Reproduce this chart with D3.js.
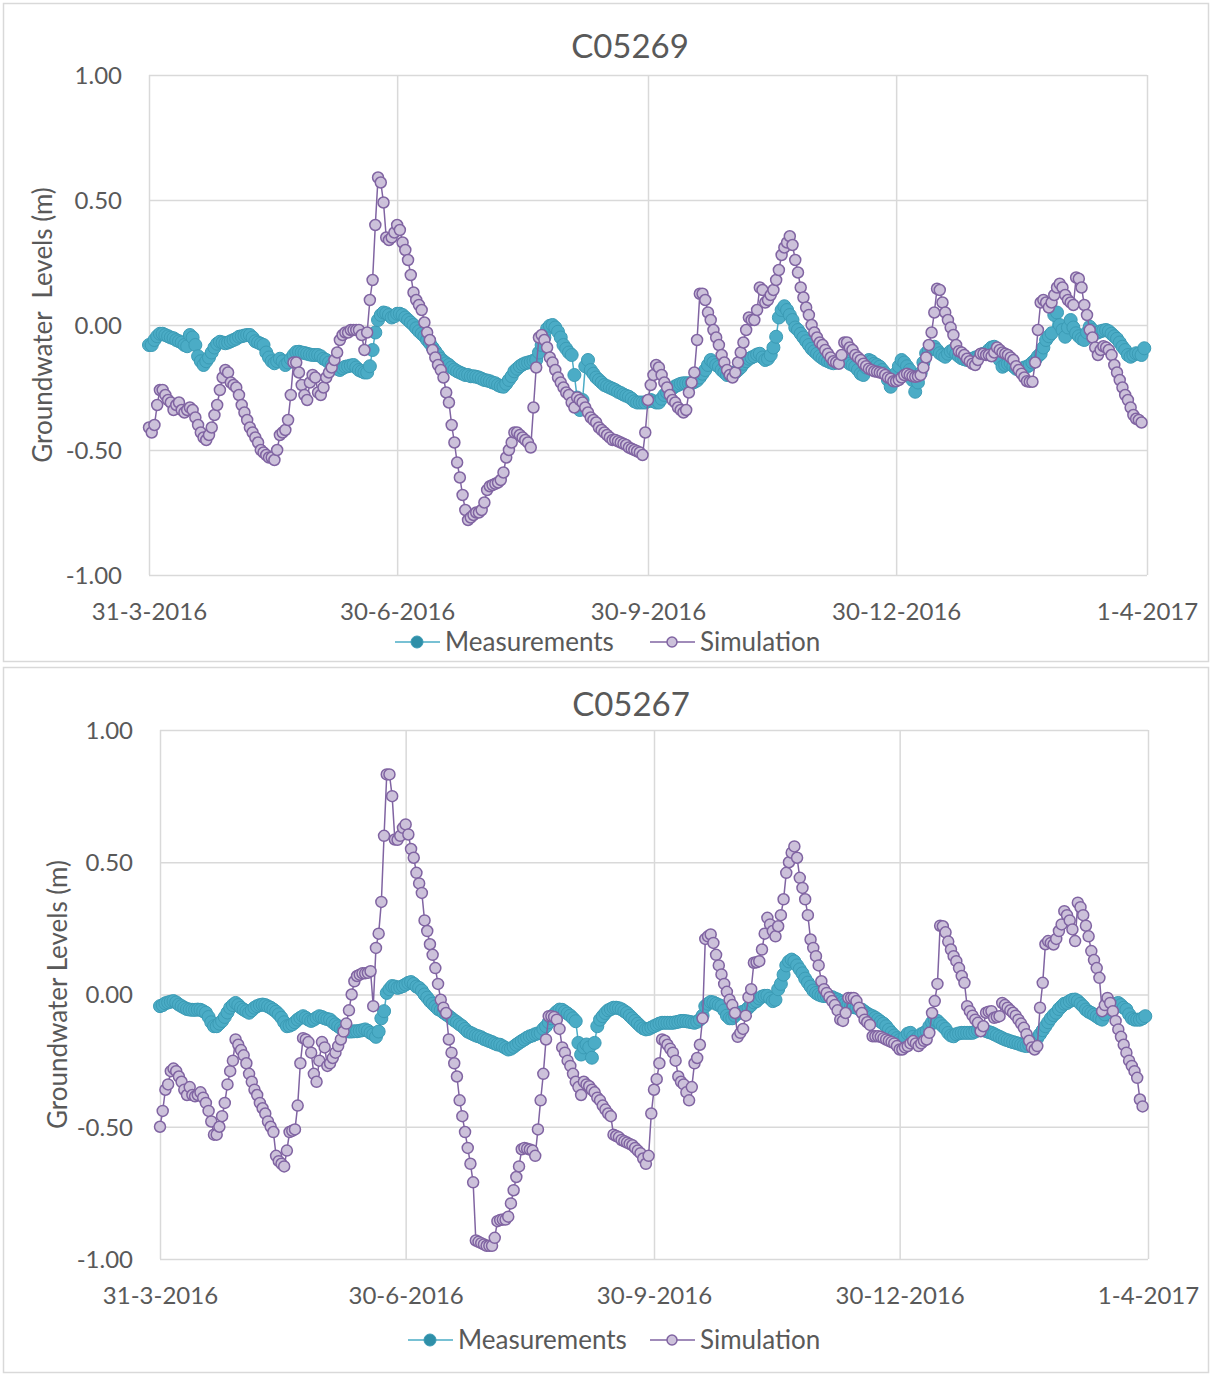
<!DOCTYPE html>
<html>
<head>
<meta charset="utf-8">
<title>Groundwater levels C05269 / C05267</title>
<script src="https://cdn.jsdelivr.net/npm/d3@7"></script>
<style>
  body { margin: 0; background: #fff; }
  svg text { font-family: Lato, 'Open Sans', sans-serif; fill: #595959; }
</style>
</head>
<body>
<div id="chart"></div>
<script>
// one value per day, first value is 31-3-2016
const startDay = '31-3-2016';
const xTickLabels = ['31-3-2016', '30-6-2016', '30-9-2016', '30-12-2016', '1-4-2017'];
const yTicks = [1, 0.5, 0, -0.5, -1];
const seriesNames = ['Measurements', 'Simulation'];

const c05269Meas = [
  -0.08, -0.08, -0.06, -0.045, -0.035, -0.035, -0.04, -0.045, -0.05, -0.053,
  -0.06, -0.065, -0.07, -0.08, -0.085, -0.04, -0.05, -0.08, -0.125, -0.145,
  -0.16, -0.145, -0.13, -0.11, -0.09, -0.075, -0.067, -0.07, -0.073, -0.07,
  -0.065, -0.06, -0.055, -0.047, -0.045, -0.042, -0.04, -0.04, -0.05, -0.065,
  -0.07, -0.075, -0.08, -0.11, -0.13, -0.145, -0.153, -0.145, -0.135, -0.145,
  -0.16, -0.15, -0.135, -0.12, -0.108, -0.107, -0.11, -0.112, -0.115, -0.118,
  -0.12, -0.12, -0.12, -0.125, -0.135, -0.14, -0.15, -0.16, -0.17, -0.175,
  -0.18, -0.173, -0.167, -0.165, -0.162, -0.16, -0.17, -0.18, -0.185, -0.19,
  -0.19, -0.165, -0.10, -0.03, 0.02, 0.04, 0.05, 0.047, 0.04, 0.03,
  0.035, 0.045, 0.045, 0.04, 0.03, 0.02, 0.01, 0.00, -0.013, -0.025,
  -0.035, -0.045, -0.06, -0.073, -0.09, -0.105, -0.12, -0.135, -0.145, -0.153,
  -0.16, -0.17, -0.178, -0.185, -0.19, -0.195, -0.20, -0.20, -0.205, -0.205,
  -0.207, -0.21, -0.215, -0.22, -0.222, -0.225, -0.23, -0.233, -0.24, -0.245,
  -0.247, -0.235, -0.22, -0.205, -0.185, -0.175, -0.165, -0.158, -0.153, -0.15,
  -0.147, -0.143, -0.14, -0.11, -0.08, -0.05, -0.015, -0.003, 0.00, -0.01,
  -0.027, -0.05, -0.08, -0.095, -0.11, -0.12, -0.20, -0.29, -0.34, -0.30,
  -0.165, -0.14, -0.18, -0.195, -0.21, -0.22, -0.23, -0.24, -0.245, -0.25,
  -0.255, -0.26, -0.267, -0.272, -0.278, -0.283, -0.287, -0.295, -0.305, -0.31,
  -0.31, -0.31, -0.31, -0.305, -0.30, -0.305, -0.31, -0.31, -0.295, -0.28,
  -0.27, -0.26, -0.253, -0.245, -0.24, -0.235, -0.233, -0.233, -0.233, -0.233,
  -0.228, -0.222, -0.21, -0.195, -0.18, -0.16, -0.14, -0.15, -0.16, -0.167,
  -0.18, -0.19, -0.20, -0.20, -0.195, -0.19, -0.18, -0.17, -0.155, -0.145,
  -0.135, -0.13, -0.125, -0.118, -0.115, -0.13, -0.14, -0.135, -0.12, -0.09,
  -0.047, 0.03, 0.06, 0.075, 0.06, 0.04, 0.02, -0.01, -0.02, -0.035,
  -0.05, -0.065, -0.08, -0.095, -0.105, -0.115, -0.125, -0.133, -0.14, -0.145,
  -0.15, -0.153, -0.15, -0.145, -0.14, -0.14, -0.145, -0.155, -0.16, -0.167,
  -0.18, -0.195, -0.20, -0.17, -0.14, -0.145, -0.155, -0.16, -0.167, -0.18,
  -0.193, -0.22, -0.247, -0.22, -0.193, -0.165, -0.14, -0.15, -0.165, -0.18,
  -0.22, -0.267, -0.23, -0.193, -0.15, -0.113, -0.10, -0.09, -0.087, -0.10,
  -0.113, -0.12, -0.127, -0.115, -0.105, -0.10, -0.115, -0.125, -0.133, -0.137,
  -0.14, -0.14, -0.135, -0.13, -0.127, -0.12, -0.115, -0.113, -0.10, -0.09,
  -0.087, -0.11, -0.14, -0.167, -0.16, -0.155, -0.153, -0.165, -0.175, -0.18,
  -0.175, -0.17, -0.167, -0.16, -0.15, -0.14, -0.125, -0.115, -0.09, -0.06,
  -0.045, -0.033, 0.04, 0.05, 0.00, -0.02, -0.047, -0.01, 0.02, -0.01,
  -0.033, -0.045, -0.055, -0.06, -0.03, -0.007, -0.02, -0.033, -0.03, -0.025,
  -0.022, -0.02, -0.025, -0.035, -0.045, -0.055, -0.07, -0.087, -0.10, -0.12,
  -0.127, -0.12, -0.113, -0.115, -0.12, -0.093
];

const c05269Sim = [
  -0.41, -0.43, -0.40, -0.32, -0.26, -0.26, -0.28, -0.30, -0.31, -0.34,
  -0.32, -0.31, -0.34, -0.35, -0.34, -0.33, -0.34, -0.37, -0.40, -0.43,
  -0.45, -0.46, -0.44, -0.41, -0.36, -0.32, -0.26, -0.21, -0.18, -0.19,
  -0.23, -0.24, -0.25, -0.28, -0.32, -0.35, -0.38, -0.41, -0.43, -0.45,
  -0.47, -0.50, -0.51, -0.52, -0.53, -0.53, -0.54, -0.50, -0.44, -0.43,
  -0.42, -0.38, -0.28, -0.15, -0.15, -0.19, -0.24, -0.28, -0.30, -0.23,
  -0.20, -0.21, -0.27, -0.28, -0.25, -0.21, -0.19, -0.17, -0.14, -0.11,
  -0.06, -0.04, -0.03, -0.03, -0.02, -0.02, -0.02, -0.02, -0.04, -0.10,
  -0.03, 0.10, 0.18, 0.40, 0.59, 0.57, 0.49, 0.35, 0.34, 0.35,
  0.37, 0.40, 0.38, 0.33, 0.30, 0.26, 0.20, 0.13, 0.10, 0.08,
  0.06, 0.01, -0.03, -0.06, -0.10, -0.13, -0.16, -0.18, -0.21, -0.27,
  -0.31, -0.40, -0.47, -0.55, -0.61, -0.68, -0.74, -0.78, -0.77, -0.76,
  -0.75, -0.75, -0.74, -0.71, -0.66, -0.645, -0.64, -0.635, -0.63, -0.62,
  -0.59, -0.53, -0.50, -0.47, -0.43, -0.43, -0.44, -0.45, -0.46, -0.47,
  -0.49, -0.33, -0.17, -0.05, -0.04, -0.06, -0.09, -0.13, -0.15, -0.18,
  -0.21, -0.23, -0.25, -0.27, -0.28, -0.31, -0.33, -0.29, -0.30, -0.31,
  -0.33, -0.35, -0.37, -0.38, -0.39, -0.41, -0.42, -0.43, -0.44, -0.45,
  -0.46, -0.46, -0.465, -0.47, -0.475, -0.48, -0.49, -0.495, -0.50, -0.505,
  -0.51, -0.52, -0.43, -0.30, -0.24, -0.20, -0.16, -0.17, -0.20, -0.23,
  -0.25, -0.28, -0.30, -0.31, -0.33, -0.34, -0.35, -0.34, -0.27, -0.23,
  -0.19, -0.06, 0.125, 0.125, 0.10, 0.05, 0.02, -0.02, -0.05, -0.08,
  -0.12, -0.15, -0.18, -0.20, -0.21, -0.19, -0.15, -0.11, -0.07, -0.02,
  0.03, 0.02, 0.02, 0.06, 0.15, 0.14, 0.09, 0.10, 0.12, 0.14,
  0.18, 0.22, 0.28, 0.31, 0.33, 0.355, 0.32, 0.26, 0.21, 0.15,
  0.11, 0.07, 0.04, 0.00, -0.03, -0.05, -0.07, -0.08, -0.10, -0.115,
  -0.13, -0.145, -0.15, -0.155, -0.12, -0.07, -0.07, -0.09, -0.10, -0.12,
  -0.13, -0.14, -0.155, -0.165, -0.175, -0.18, -0.185, -0.187, -0.19, -0.193,
  -0.20, -0.21, -0.215, -0.225, -0.225, -0.22, -0.21, -0.20, -0.195, -0.20,
  -0.205, -0.207, -0.205, -0.20, -0.17, -0.13, -0.08, -0.03, 0.05, 0.145,
  0.14, 0.09, 0.05, 0.02, -0.01, -0.04, -0.08, -0.105, -0.11, -0.12,
  -0.135, -0.145, -0.155, -0.16, -0.14, -0.115, -0.115, -0.12, -0.12, -0.125,
  -0.11, -0.09, -0.10, -0.11, -0.115, -0.12, -0.13, -0.14, -0.165, -0.18,
  -0.195, -0.21, -0.225, -0.227, -0.227, -0.15, -0.02, 0.09, 0.10, 0.09,
  0.07, 0.09, 0.12, 0.15, 0.165, 0.15, 0.12, 0.10, 0.09, 0.08,
  0.19, 0.185, 0.15, 0.08, 0.04, -0.02, -0.05, -0.09, -0.12, -0.10,
  -0.085, -0.09, -0.10, -0.12, -0.16, -0.19, -0.22, -0.25, -0.28, -0.30,
  -0.33, -0.36, -0.375, -0.38, -0.39
];

const c05267Meas = [
  -0.044, -0.04, -0.033, -0.03, -0.027, -0.025, -0.03, -0.038, -0.044, -0.05,
  -0.055, -0.057, -0.058, -0.058, -0.057, -0.058, -0.063, -0.069, -0.085, -0.105,
  -0.12, -0.12, -0.11, -0.10, -0.085, -0.068, -0.05, -0.04, -0.032, -0.04,
  -0.05, -0.057, -0.063, -0.069, -0.06, -0.05, -0.044, -0.04, -0.038, -0.04,
  -0.045, -0.05, -0.057, -0.065, -0.075, -0.088, -0.105, -0.12, -0.118, -0.113,
  -0.105, -0.095, -0.088, -0.082, -0.088, -0.095, -0.10, -0.095, -0.088, -0.082,
  -0.085, -0.09, -0.093, -0.095, -0.105, -0.113, -0.12, -0.127, -0.133, -0.139,
  -0.14, -0.14, -0.139, -0.139, -0.137, -0.135, -0.132, -0.137, -0.145, -0.151,
  -0.16, -0.14, -0.09, -0.063, 0.006, 0.02, 0.032, 0.03, 0.025, 0.028,
  0.032, 0.038, 0.044, 0.047, 0.04, 0.03, 0.025, 0.015, 0.00, -0.012,
  -0.025, -0.035, -0.045, -0.055, -0.06, -0.068, -0.075, -0.082, -0.09, -0.098,
  -0.105, -0.113, -0.12, -0.13, -0.14, -0.145, -0.15, -0.155, -0.158, -0.162,
  -0.168, -0.172, -0.176, -0.18, -0.185, -0.189, -0.19, -0.196, -0.202, -0.208,
  -0.205, -0.198, -0.19, -0.183, -0.176, -0.17, -0.163, -0.158, -0.155, -0.15,
  -0.147, -0.145, -0.13, -0.12, -0.105, -0.09, -0.075, -0.065, -0.057, -0.058,
  -0.065, -0.072, -0.08, -0.09, -0.101, -0.183, -0.227, -0.20, -0.189, -0.20,
  -0.239, -0.183, -0.12, -0.095, -0.082, -0.07, -0.06, -0.055, -0.05, -0.05,
  -0.052, -0.056, -0.063, -0.07, -0.08, -0.09, -0.10, -0.11, -0.12, -0.128,
  -0.132, -0.13, -0.125, -0.12, -0.115, -0.11, -0.107, -0.107, -0.107, -0.107,
  -0.107, -0.105, -0.103, -0.10, -0.10, -0.101, -0.103, -0.105, -0.107, -0.103,
  -0.095, -0.08, -0.044, -0.035, -0.028, -0.03, -0.035, -0.04, -0.044, -0.06,
  -0.08, -0.09, -0.09, -0.08, -0.07, -0.068, -0.065, -0.06, -0.05, -0.04,
  -0.03, -0.025, -0.015, -0.008, -0.005, -0.005, -0.015, -0.025, -0.02, 0.02,
  0.04, 0.075, 0.11, 0.125, 0.132, 0.125, 0.11, 0.095, 0.08, 0.06,
  0.045, 0.03, 0.015, 0.006, 0.00, -0.004, -0.006, -0.006, -0.008, -0.01,
  -0.015, -0.019, -0.025, -0.03, -0.035, -0.04, -0.044, -0.048, -0.05, -0.055,
  -0.057, -0.065, -0.072, -0.078, -0.082, -0.088, -0.095, -0.103, -0.11, -0.12,
  -0.133, -0.145, -0.155, -0.165, -0.172, -0.176, -0.16, -0.148, -0.145, -0.16,
  -0.17, -0.16, -0.15, -0.145, -0.139, -0.12, -0.105, -0.095, -0.10, -0.11,
  -0.12, -0.13, -0.145, -0.155, -0.158, -0.15, -0.147, -0.145, -0.145, -0.145,
  -0.145, -0.145, -0.14, -0.135, -0.132, -0.132, -0.138, -0.142, -0.145, -0.15,
  -0.155, -0.16, -0.165, -0.17, -0.173, -0.177, -0.18, -0.183, -0.186, -0.19,
  -0.193, -0.195, -0.19, -0.183, -0.175, -0.165, -0.15, -0.135, -0.12, -0.105,
  -0.09, -0.078, -0.069, -0.055, -0.045, -0.035, -0.032, -0.025, -0.02, -0.019,
  -0.025, -0.035, -0.045, -0.057, -0.065, -0.07, -0.076, -0.083, -0.09, -0.095,
  -0.075, -0.05, -0.044, -0.04, -0.035, -0.032, -0.04, -0.05, -0.057, -0.075,
  -0.09, -0.095, -0.095, -0.095, -0.09, -0.082
];

const c05267Sim = [
  -0.50, -0.44, -0.36, -0.34, -0.29, -0.28, -0.29, -0.31, -0.33, -0.36,
  -0.38, -0.35, -0.38, -0.385, -0.38, -0.37, -0.39, -0.41, -0.44, -0.48,
  -0.53, -0.53, -0.50, -0.46, -0.41, -0.34, -0.29, -0.25, -0.17, -0.19,
  -0.21, -0.23, -0.26, -0.30, -0.33, -0.36, -0.38, -0.41, -0.43, -0.45,
  -0.48, -0.50, -0.52, -0.61, -0.63, -0.64, -0.65, -0.59, -0.52, -0.515,
  -0.51, -0.42, -0.26, -0.165, -0.17, -0.18, -0.22, -0.30, -0.33, -0.25,
  -0.18, -0.20, -0.27, -0.26, -0.24, -0.22, -0.195, -0.17, -0.14, -0.11,
  -0.06, 0.00, 0.05, 0.07, 0.075, 0.08, 0.08, 0.082, 0.088, -0.044,
  0.176, 0.23, 0.35, 0.60, 0.832, 0.832, 0.75, 0.586, 0.585, 0.60,
  0.63, 0.643, 0.605, 0.55, 0.517, 0.46, 0.42, 0.384, 0.28, 0.24,
  0.19, 0.15, 0.10, 0.04, -0.02, -0.05, -0.07, -0.17, -0.22, -0.26,
  -0.31, -0.40, -0.46, -0.52, -0.58, -0.64, -0.71, -0.93, -0.935, -0.94,
  -0.945, -0.95, -0.95, -0.95, -0.92, -0.857, -0.853, -0.851, -0.851, -0.84,
  -0.79, -0.74, -0.69, -0.65, -0.585, -0.58, -0.583, -0.586, -0.59, -0.61,
  -0.51, -0.40, -0.30, -0.17, -0.082, -0.082, -0.085, -0.095, -0.13, -0.20,
  -0.22, -0.25, -0.27, -0.30, -0.33, -0.35, -0.38, -0.33, -0.34, -0.347,
  -0.36, -0.37, -0.39, -0.40, -0.42, -0.435, -0.45, -0.46, -0.53, -0.535,
  -0.54, -0.55, -0.555, -0.56, -0.565, -0.57, -0.58, -0.59, -0.60, -0.62,
  -0.64, -0.61, -0.45, -0.36, -0.32, -0.26, -0.17, -0.175, -0.19, -0.205,
  -0.22, -0.25, -0.31, -0.33, -0.34, -0.37, -0.40, -0.35, -0.26, -0.24,
  -0.19, -0.09, 0.21, 0.22, 0.227, 0.195, 0.15, 0.11, 0.076, 0.04,
  0.01, -0.02, -0.04, -0.07, -0.16, -0.145, -0.13, -0.08, -0.01, 0.02,
  0.12, 0.122, 0.126, 0.17, 0.23, 0.29, 0.265, 0.24, 0.22, 0.258,
  0.30, 0.36, 0.46, 0.50, 0.536, 0.56, 0.517, 0.441, 0.403, 0.36,
  0.30, 0.208, 0.176, 0.145, 0.11, 0.05, 0.02, 0.006, -0.01, -0.025,
  -0.04, -0.06, -0.095, -0.10, -0.07, -0.013, -0.013, -0.013, -0.025, -0.05,
  -0.07, -0.095, -0.105, -0.115, -0.158, -0.158, -0.158, -0.16, -0.165, -0.17,
  -0.175, -0.18, -0.185, -0.195, -0.208, -0.208, -0.20, -0.195, -0.185, -0.176,
  -0.185, -0.195, -0.185, -0.175, -0.17, -0.145, -0.07, -0.025, 0.04, 0.26,
  0.258, 0.235, 0.20, 0.17, 0.145, 0.126, 0.10, 0.07, 0.044, -0.044,
  -0.063, -0.08, -0.095, -0.107, -0.139, -0.12, -0.069, -0.065, -0.063, -0.088,
  -0.085, -0.082, -0.032, -0.04, -0.05, -0.06, -0.069, -0.08, -0.095, -0.11,
  -0.126, -0.15, -0.175, -0.20, -0.208, -0.195, -0.05, 0.044, 0.19, 0.202,
  0.195, 0.189, 0.21, 0.24, 0.265, 0.315, 0.30, 0.28, 0.246, 0.202,
  0.347, 0.33, 0.30, 0.26, 0.22, 0.164, 0.13, 0.10, 0.063, -0.063,
  -0.04, -0.013, -0.032, -0.063, -0.10, -0.132, -0.16, -0.19, -0.22, -0.25,
  -0.27, -0.29, -0.315, -0.397, -0.423
];

const width = 1212;
const height = 1375;

const colors = {
  meas: { line: '#4bacc6', fill: '#4bacc6', stroke: '#3b9bb5' },
  sim: { line: '#8064a2', fill: '#ccc1da', stroke: '#8064a2' },
  grid: '#d9d9d9',
  border: '#d9d9d9'
};

const layouts = [
  {
    title: 'C05269', yTitle: 'Groundwater  Levels (m)',
    panel: { x: 3, y: 3, w: 1205, h: 658 },
    plot: { left: 149, right: 1147, top: 75, bottom: 575 },
    titleX: 630, titleY: 46, yTitleX: 43, legendY: 642,
    legendMeasX: 395, legendSimX: 650
  },
  {
    title: 'C05267', yTitle: 'Groundwater Levels (m)',
    panel: { x: 3, y: 667, w: 1205, h: 705 },
    plot: { left: 160, right: 1148, top: 730, bottom: 1259 },
    titleX: 631, titleY: 704, yTitleX: 58, legendY: 1340,
    legendMeasX: 408, legendSimX: 650
  }
];

const parseDay = d3.utcParse('%d-%m-%Y');
const start = parseDay(startDay);
const tickDates = xTickLabels.map(parseDay);

const toPoints = (values) => values.map((v, i) => ({ date: d3.utcDay.offset(start, i), value: v }));

const svg = d3.select('#chart')
  .append('svg')
    .attr('width', width)
    .attr('height', height);

function drawChart(layout, measValues, simValues) {
  const p = layout.plot;
  const g = svg.append('g');

  g.append('rect')
    .attr('x', layout.panel.x + 0.5)
    .attr('y', layout.panel.y + 0.5)
    .attr('width', layout.panel.w)
    .attr('height', layout.panel.h)
    .attr('fill', '#fff')
    .attr('stroke', colors.border)
    .attr('stroke-width', 1.5);

  const xScale = d3.scaleUtc()
    .domain(d3.extent(tickDates))
    .range([p.left, p.right]);

  const yScale = d3.scaleLinear()
    .domain([-1, 1])
    .range([p.bottom, p.top]);

  // vertical gridlines + date labels
  g.append('g')
    .attr('transform', `translate(0, ${p.bottom})`)
    .call(d3.axisBottom(xScale)
      .tickValues(tickDates)
      .tickSize(-(p.bottom - p.top))
      .tickFormat((d, i) => xTickLabels[i]))
    .call((a) => {
      a.select('.domain').remove();
      a.selectAll('line').attr('stroke', colors.grid).attr('stroke-width', 1.5);
      a.selectAll('text')
        .attr('y', 37)
        .attr('dy', '0.35em')
        .attr('font-size', 24);
    })
    .attr('font-family', null);

  // horizontal gridlines + value labels
  g.append('g')
    .attr('transform', `translate(${p.left}, 0)`)
    .call(d3.axisLeft(yScale)
      .tickValues(yTicks)
      .tickSize(-(p.right - p.left))
      .tickPadding(27)
      .tickFormat((d) => d.toFixed(2)))
    .call((a) => {
      a.select('.domain').remove();
      a.selectAll('line').attr('stroke', colors.grid).attr('stroke-width', 1.5);
      a.selectAll('text')
        .attr('dy', '0.35em')
        .attr('font-size', 24);
    })
    .attr('font-family', null);

  const line = d3.line()
    .x((d) => xScale(d.date))
    .y((d) => yScale(d.value));

  const series = [
    { data: toPoints(measValues), style: colors.meas, r: 6.5, sw: 1 },
    { data: toPoints(simValues), style: colors.sim, r: 5.5, sw: 1.5 }
  ];

  series.forEach((s) => {
    g.append('path')
      .datum(s.data)
      .attr('fill', 'none')
      .attr('stroke', s.style.line)
      .attr('stroke-width', 1.5)
      .attr('d', line);

    g.append('g')
      .selectAll('circle')
      .data(s.data)
      .join('circle')
        .attr('cx', (d) => xScale(d.date))
        .attr('cy', (d) => yScale(d.value))
        .attr('r', s.r)
        .attr('fill', s.style.fill)
        .attr('stroke', s.style.stroke)
        .attr('stroke-width', s.sw);
  });

  // title
  g.append('text')
    .attr('x', layout.titleX)
    .attr('y', layout.titleY)
    .attr('dy', '0.35em')
    .attr('text-anchor', 'middle')
    .attr('font-size', 33)
    .text(layout.title);

  // y axis title
  g.append('text')
    .attr('transform', `translate(${layout.yTitleX}, ${(p.top + p.bottom) / 2}) rotate(-90)`)
    .attr('dy', '0.35em')
    .attr('text-anchor', 'middle')
    .attr('font-size', 26)
    .style('white-space', 'pre')
    .text(layout.yTitle);

  // legend
  const legendItems = [
    { name: seriesNames[0], x: layout.legendMeasX, style: colors.meas, r: 6, sw: 1 },
    { name: seriesNames[1], x: layout.legendSimX, style: colors.sim, r: 5, sw: 1.5 }
  ];

  const legend = g.append('g')
    .attr('transform', `translate(0, ${layout.legendY})`);

  legendItems.forEach((item) => {
    legend.append('line')
      .attr('x1', item.x)
      .attr('x2', item.x + 45)
      .attr('stroke', item.style.line)
      .attr('stroke-width', 1.5);
    legend.append('circle')
      .attr('cx', item.x + 22)
      .attr('r', item.r)
      .attr('fill', item.name === 'Measurements' ? '#2f8fa8' : item.style.fill)
      .attr('stroke', item.style.stroke)
      .attr('stroke-width', item.sw);
    legend.append('text')
      .attr('x', item.x + 50)
      .attr('dy', '0.35em')
      .attr('font-size', 26)
      .text(item.name);
  });
}

drawChart(layouts[0], c05269Meas, c05269Sim);
drawChart(layouts[1], c05267Meas, c05267Sim);
</script>
</body>
</html>
